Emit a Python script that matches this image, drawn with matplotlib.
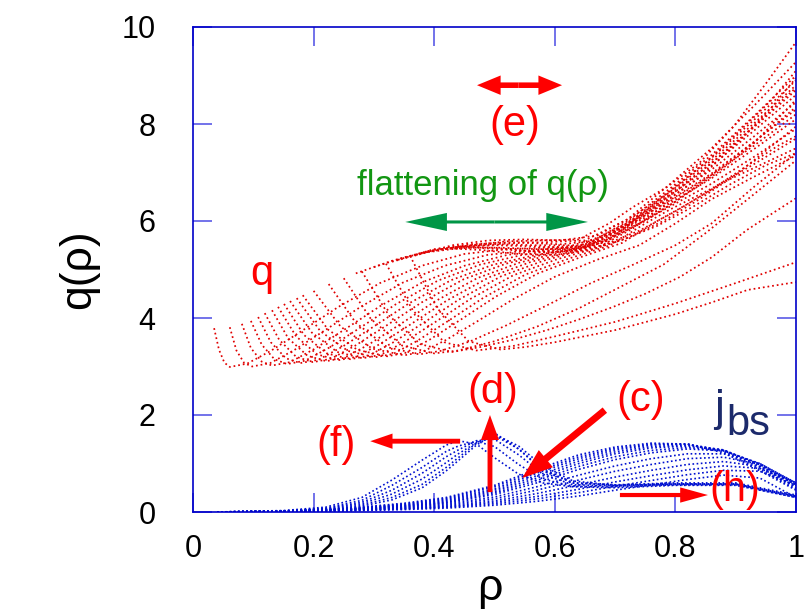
import matplotlib
matplotlib.use('Agg')
import matplotlib.pyplot as plt
from matplotlib.patches import FancyArrowPatch

plt.rcParams['font.family'] = ['Liberation Sans', 'DejaVu Sans']

# q(rho) profiles, one rho list and one q list per time slice
q_rho = [
    [0.035, 0.043, 0.052, 0.061, 0.09, 0.13, 0.18, 0.24, 0.31, 0.38, 0.45, 0.52, 0.58, 0.65, 0.72, 0.79, 0.86, 0.93, 1.0],
    [0.061, 0.072, 0.085, 0.098, 0.128, 0.168, 0.218, 0.278, 0.348, 0.418, 0.488, 0.56, 0.65, 0.72, 0.79, 0.86, 0.93, 1.0],
    [0.081, 0.096, 0.114, 0.131, 0.161, 0.201, 0.251, 0.311, 0.381, 0.451, 0.521, 0.59, 0.65, 0.72, 0.79, 0.86, 0.93, 1.0],
    [0.096, 0.114, 0.135, 0.156, 0.186, 0.226, 0.276, 0.336, 0.406, 0.476, 0.546, 0.61, 0.65, 0.72, 0.79, 0.86, 0.93, 1.0],
    [0.108, 0.129, 0.154, 0.178, 0.208, 0.248, 0.298, 0.358, 0.428, 0.498, 0.568, 0.63, 0.72, 0.79, 0.86, 0.93, 1.0],
    [0.119, 0.143, 0.171, 0.199, 0.229, 0.269, 0.319, 0.379, 0.449, 0.519, 0.589, 0.65, 0.72, 0.79, 0.86, 0.93, 1.0],
    [0.131, 0.158, 0.19, 0.221, 0.251, 0.291, 0.341, 0.401, 0.471, 0.541, 0.611, 0.68, 0.72, 0.79, 0.86, 0.93, 1.0],
    [0.141, 0.171, 0.206, 0.241, 0.271, 0.311, 0.361, 0.421, 0.491, 0.561, 0.631, 0.69, 0.75, 0.80, 0.86, 0.93, 1.0],
    [0.151, 0.184, 0.222, 0.261, 0.291, 0.331, 0.381, 0.441, 0.511, 0.581, 0.651, 0.71, 0.79, 0.86, 0.93, 1.0],
    [0.161, 0.197, 0.239, 0.281, 0.311, 0.351, 0.401, 0.461, 0.531, 0.601, 0.671, 0.73, 0.79, 0.86, 0.93, 1.0],
    [0.172, 0.211, 0.257, 0.302, 0.332, 0.372, 0.422, 0.482, 0.552, 0.622, 0.692, 0.75, 0.79, 0.86, 0.93, 1.0],
    [0.182, 0.224, 0.273, 0.322, 0.352, 0.392, 0.442, 0.502, 0.572, 0.642, 0.712, 0.77, 0.82, 0.88, 0.94, 1.0],
    [0.20, 0.245, 0.297, 0.35, 0.38, 0.42, 0.47, 0.53, 0.60, 0.67, 0.74, 0.80, 0.86, 0.93, 1.0],
    [0.225, 0.27, 0.322, 0.375, 0.41, 0.46, 0.52, 0.59, 0.66, 0.73, 0.80, 0.86, 0.93, 1.0],
    [0.25, 0.295, 0.347, 0.40, 0.44, 0.50, 0.57, 0.64, 0.71, 0.78, 0.85, 0.92, 1.0],
    [0.28, 0.325, 0.377, 0.43, 0.476, 0.53, 0.587, 0.64, 0.697, 0.75, 0.808, 0.86, 0.918, 0.96, 1.0],
    [0.32, 0.365, 0.417, 0.47, 0.53, 0.60, 0.70, 0.80, 0.90, 1.0],
    [0.36, 0.405, 0.457, 0.51, 0.55, 0.60, 0.70, 0.80, 0.86, 0.92, 1.0],
    [0.30, 0.35, 0.40, 0.46, 0.52, 0.58, 0.64, 0.69, 0.73, 0.786, 0.84, 0.896, 0.951, 1.0],
    [0.34, 0.40, 0.46, 0.52, 0.58, 0.65, 0.72, 0.79, 0.86, 0.93, 1.0],
    [0.38, 0.44, 0.50, 0.56, 0.62, 0.68, 0.74, 0.80, 0.86, 0.93, 1.0],
    [0.41, 0.47, 0.53, 0.59, 0.65, 0.71, 0.77, 0.83, 0.89, 0.95, 1.0],
    [0.44, 0.50, 0.56, 0.62, 0.68, 0.74, 0.80, 0.86, 0.92, 0.97, 1.0],
    [0.43, 0.49, 0.55, 0.61, 0.67, 0.73, 0.79, 0.85, 0.91, 0.96, 1.0],
    [0.27, 0.33, 0.39, 0.45, 0.51, 0.57, 0.63, 0.69, 0.75, 0.81, 0.87, 0.93, 1.0],
    [0.33, 0.39, 0.45, 0.51, 0.57, 0.63, 0.69, 0.75, 0.81, 0.87, 0.93, 1.0],
    [0.37, 0.43, 0.49, 0.55, 0.61, 0.67, 0.73, 0.79, 0.85, 0.91, 0.96, 1.0],
    [0.42, 0.48, 0.54, 0.60, 0.66, 0.72, 0.78, 0.84, 0.90, 0.95, 1.0],
]
q_val = [
    [3.79, 3.35, 3.08, 2.99, 3.06, 3.33, 3.73, 4.22, 4.72, 5.08, 5.32, 5.42, 5.45, 5.50, 5.99, 6.66, 7.36, 8.16, 9.00],
    [3.81, 3.33, 3.07, 3.00, 3.07, 3.34, 3.74, 4.23, 4.73, 5.08, 5.30, 5.40, 5.48, 5.93, 6.52, 7.14, 7.86, 8.60],
    [3.88, 3.38, 3.10, 3.02, 3.09, 3.36, 3.76, 4.25, 4.74, 5.08, 5.30, 5.42, 5.48, 5.96, 6.59, 7.25, 8.01, 8.80],
    [3.94, 3.45, 3.15, 3.05, 3.12, 3.39, 3.79, 4.28, 4.77, 5.10, 5.30, 5.42, 5.45, 5.91, 6.47, 7.06, 7.74, 8.45],
    [4.02, 3.50, 3.17, 3.07, 3.14, 3.41, 3.81, 4.30, 4.78, 5.10, 5.30, 5.42, 5.95, 6.55, 7.19, 7.93, 8.70],
    [4.10, 3.55, 3.20, 3.09, 3.16, 3.43, 3.83, 4.32, 4.80, 5.12, 5.33, 5.45, 5.86, 6.36, 6.88, 7.48, 8.10],
    [4.16, 3.58, 3.22, 3.11, 3.18, 3.45, 3.85, 4.34, 4.82, 5.14, 5.36, 5.55, 5.89, 6.42, 6.98, 7.63, 8.30],
    [4.23, 3.62, 3.25, 3.13, 3.20, 3.47, 3.87, 4.36, 4.84, 5.16, 5.38, 5.60, 6.20, 6.72, 7.30, 8.08, 8.90],
    [4.29, 3.65, 3.27, 3.15, 3.22, 3.49, 3.89, 4.38, 4.86, 5.18, 5.42, 5.75, 6.29, 6.77, 7.32, 7.90],
    [4.35, 3.70, 3.30, 3.17, 3.24, 3.51, 3.91, 4.40, 4.88, 5.20, 5.45, 5.85, 6.40, 6.95, 7.55, 8.20],
    [4.41, 3.73, 3.32, 3.19, 3.26, 3.53, 3.93, 4.42, 4.90, 5.22, 5.50, 5.95, 6.23, 6.67, 7.17, 7.70],
    [4.47, 3.76, 3.34, 3.21, 3.28, 3.55, 3.95, 4.44, 4.92, 5.25, 5.55, 6.00, 6.35, 6.80, 7.15, 7.50],
    [4.56, 3.82, 3.37, 3.23, 3.30, 3.55, 3.92, 4.38, 4.85, 5.20, 5.50, 5.95, 6.45, 6.91, 7.35],
    [4.70, 3.90, 3.40, 3.25, 3.32, 3.52, 3.85, 4.28, 4.72, 5.10, 5.50, 5.95, 6.70, 7.40],
    [4.82, 3.98, 3.43, 3.27, 3.33, 3.52, 3.82, 4.20, 4.65, 5.10, 5.75, 6.45, 7.25],
    [4.96, 4.05, 3.46, 3.30, 3.40, 3.55, 3.75, 3.97, 4.23, 4.50, 4.85, 5.25, 5.81, 6.15, 6.47],
    [5.12, 4.15, 3.50, 3.33, 3.42, 3.62, 3.92, 4.30, 4.72, 5.15],
    [5.28, 4.20, 3.52, 3.35, 3.40, 3.50, 3.75, 4.08, 4.32, 4.58, 4.74],
    [5.05, 5.25, 5.40, 5.50, 5.58, 5.60, 5.62, 5.95, 6.29, 6.70, 7.20, 7.94, 8.85, 9.69],
    [5.20, 5.42, 5.52, 5.56, 5.56, 5.60, 6.03, 6.75, 7.50, 8.37, 9.28],
    [5.34, 5.47, 5.50, 5.48, 5.45, 5.60, 5.95, 6.40, 6.95, 7.62, 8.35],
    [5.42, 5.45, 5.40, 5.35, 5.40, 5.60, 5.90, 6.30, 6.75, 7.15, 7.40],
    [5.47, 5.45, 5.38, 5.38, 5.50, 5.80, 6.20, 6.65, 7.15, 7.55, 7.75],
    [5.45, 5.52, 5.55, 5.52, 5.60, 5.95, 6.45, 7.00, 7.70, 8.35, 8.95],
    [4.92, 5.18, 5.38, 5.48, 5.52, 5.50, 5.50, 5.72, 6.15, 6.70, 7.30, 7.95, 8.75],
    [5.16, 5.36, 5.45, 5.45, 5.42, 5.42, 5.62, 6.00, 6.48, 7.00, 7.60, 8.50],
    [5.30, 5.50, 5.60, 5.62, 5.60, 5.70, 6.10, 6.60, 7.20, 7.90, 8.50, 9.10],
    [5.44, 5.40, 5.32, 5.30, 5.40, 5.65, 6.00, 6.45, 6.95, 7.45, 7.95],
]

# bootstrap current, early slices (peak near rho ~ 0.45-0.5)
jbs_rho_early = [0.04, 0.15, 0.22, 0.28, 0.33, 0.38, 0.42, 0.44, 0.47, 0.50, 0.54, 0.58, 0.63, 0.70, 0.80, 0.90, 1.0]
jbs_early = [
    [0.0, 0.03, 0.10, 0.30, 0.66, 1.07, 1.38, 1.47, 1.40, 1.12, 0.78, 0.60, 0.52, 0.50, 0.55, 0.55, 0.30],
    [0.0, 0.02, 0.08, 0.24, 0.55, 0.92, 1.25, 1.36, 1.46, 1.35, 0.98, 0.68, 0.53, 0.52, 0.56, 0.56, 0.30],
    [0.0, 0.02, 0.07, 0.20, 0.45, 0.80, 1.14, 1.28, 1.47, 1.50, 1.18, 0.78, 0.56, 0.54, 0.57, 0.57, 0.32],
    [0.0, 0.02, 0.06, 0.17, 0.37, 0.68, 1.02, 1.20, 1.43, 1.58, 1.30, 0.88, 0.60, 0.55, 0.58, 0.58, 0.33],
    [0.0, 0.01, 0.05, 0.14, 0.30, 0.57, 0.92, 1.12, 1.42, 1.63, 1.30, 0.85, 0.60, 0.56, 0.60, 0.60, 0.35],
    [0.0, 0.01, 0.04, 0.12, 0.25, 0.50, 0.85, 1.06, 1.38, 1.60, 1.36, 0.95, 0.64, 0.55, 0.58, 0.58, 0.33],
]

# bootstrap current, late slices (peak near rho ~ 0.75-0.9)
jbs_rho_late = [0.04, 0.15, 0.25, 0.35, 0.42, 0.50, 0.57, 0.64, 0.70, 0.76, 0.82, 0.88, 0.94, 1.0]
jbs_late = [
    [0.0, 0.02, 0.07, 0.18, 0.30, 0.55, 0.88, 1.18, 1.34, 1.42, 1.40, 1.22, 0.85, 0.45],
    [0.0, 0.02, 0.065, 0.165, 0.28, 0.52, 0.84, 1.14, 1.31, 1.40, 1.40, 1.25, 0.88, 0.47],
    [0.0, 0.02, 0.06, 0.15, 0.26, 0.48, 0.80, 1.10, 1.28, 1.38, 1.40, 1.27, 0.92, 0.50],
    [0.0, 0.02, 0.055, 0.14, 0.24, 0.45, 0.75, 1.05, 1.24, 1.35, 1.38, 1.28, 0.95, 0.52],
    [0.0, 0.02, 0.05, 0.13, 0.22, 0.42, 0.70, 1.00, 1.20, 1.32, 1.36, 1.28, 0.98, 0.55],
    [0.0, 0.015, 0.05, 0.12, 0.20, 0.39, 0.65, 0.94, 1.14, 1.27, 1.33, 1.27, 0.99, 0.56],
    [0.0, 0.01, 0.05, 0.11, 0.19, 0.36, 0.60, 0.88, 1.08, 1.22, 1.30, 1.26, 1.00, 0.58],
    [0.0, 0.01, 0.04, 0.10, 0.17, 0.31, 0.52, 0.76, 0.95, 1.10, 1.20, 1.20, 1.00, 0.60],
    [0.0, 0.01, 0.04, 0.09, 0.15, 0.27, 0.45, 0.66, 0.84, 0.98, 1.10, 1.13, 0.98, 0.60],
    [0.0, 0.01, 0.03, 0.08, 0.13, 0.23, 0.38, 0.56, 0.72, 0.86, 0.98, 1.04, 0.94, 0.60],
    [0.0, 0.01, 0.03, 0.07, 0.11, 0.20, 0.32, 0.47, 0.62, 0.75, 0.87, 0.95, 0.90, 0.58],
    [0.0, 0.01, 0.03, 0.06, 0.10, 0.17, 0.27, 0.40, 0.53, 0.65, 0.77, 0.86, 0.84, 0.55],
    [0.0, 0.01, 0.02, 0.05, 0.08, 0.14, 0.22, 0.33, 0.45, 0.56, 0.67, 0.76, 0.70, 0.30],
]

x_ticks = [0, 0.2, 0.4, 0.6, 0.8, 1]
x_tick_labels = ['0', '0.2', '0.4', '0.6', '0.8', '1']
y_ticks = [0, 2, 4, 6, 8, 10]
y_tick_labels = ['0', '2', '4', '6', '8', '10']

RED = '#ff0000'

fig = plt.figure(figsize=(8.09, 6.10), dpi=100)
ax = fig.add_axes([193 / 809, 98 / 610, 603 / 809, 485 / 610])

for r, q in zip(q_rho, q_val):
    ax.plot(r, q, color='#e00000', lw=1.25, ls=(0, (1, 1.7)))
for q in jbs_early:
    ax.plot(jbs_rho_early, q, color='#0010d0', lw=1.2, ls=(0, (1, 1.5)))
for q in jbs_late:
    ax.plot(jbs_rho_late, q, color='#0010d0', lw=1.2, ls=(0, (1, 1.5)))

ax.set_xlim(0, 1)
ax.set_ylim(0, 10)
ax.set_xticks(x_ticks, x_tick_labels)
ax.set_yticks(y_ticks, y_tick_labels)
ax.tick_params(direction='in', length=14, width=1.2, color='#5a5ae6',
               top=True, right=True, labelsize=22)
ax.tick_params(axis='x', pad=16)
ax.tick_params(axis='y', pad=27)
for s in ax.spines.values():
    s.set_color('#0000c8')
    s.set_linewidth(1.2)

ax.set_xlabel('ρ', fontsize=32)
ax.xaxis.set_label_coords(0.4925, -0.115)
ax.set_ylabel('q(ρ)', fontsize=32)
ax.yaxis.set_label_coords(-0.155, 0.5)


def arrow(x0, y0, x1, y1, color, tail, hl, hw):
    ax.add_patch(FancyArrowPatch(
        (x0, y0), (x1, y1),
        arrowstyle=f'simple,head_length={hl},head_width={hw},tail_width={tail}',
        mutation_scale=1, color=color, lw=0, shrinkA=0, shrinkB=0, zorder=5))


# (e): double arrow above the label
arrow(0.54, 8.8, 0.471, 8.8, RED, 4, 17, 14)
arrow(0.54, 8.8, 0.612, 8.8, RED, 4, 17, 14)
ax.text(0.534, 7.98, '(e)', color=RED, fontsize=30, ha='center', va='center')

# flattening of q
ax.text(0.481, 6.74, 'flattening of q(ρ)', color='#129612', fontsize=25,
        ha='center', va='center')
arrow(0.50, 5.98, 0.352, 5.98, '#009646', 2.2, 30, 13)
arrow(0.50, 5.98, 0.655, 5.98, '#009646', 2.2, 30, 13)

ax.text(0.114, 4.9, 'q', color=RED, fontsize=30, ha='center', va='center')

# bootstrap current annotations
ax.text(0.4975, 2.47, '(d)', color=RED, fontsize=30, ha='center', va='center')
arrow(0.4925, 0.41, 0.4925, 2.0, RED, 3.5, 18, 13)

ax.text(0.743, 2.31, '(c)', color=RED, fontsize=30, ha='center', va='center')
arrow(0.683, 2.10, 0.546, 0.70, RED, 5, 22, 16)

ax.text(0.237, 1.38, '(f)', color=RED, fontsize=30, ha='center', va='center')
arrow(0.443, 1.46, 0.294, 1.46, RED, 3.5, 16, 11)

ax.text(0.899, 0.45, '(h)', color=RED, fontsize=30, ha='center', va='center')
arrow(0.708, 0.35, 0.854, 0.35, RED, 3, 20, 11)

ax.text(0.872, 1.88, 'j', color='#1c2a6b', fontsize=32, ha='center', va='baseline')
ax.text(0.884, 1.59, 'bs', color='#1c2a6b', fontsize=30, ha='left', va='baseline')

fig.savefig('out.png', dpi=100)
